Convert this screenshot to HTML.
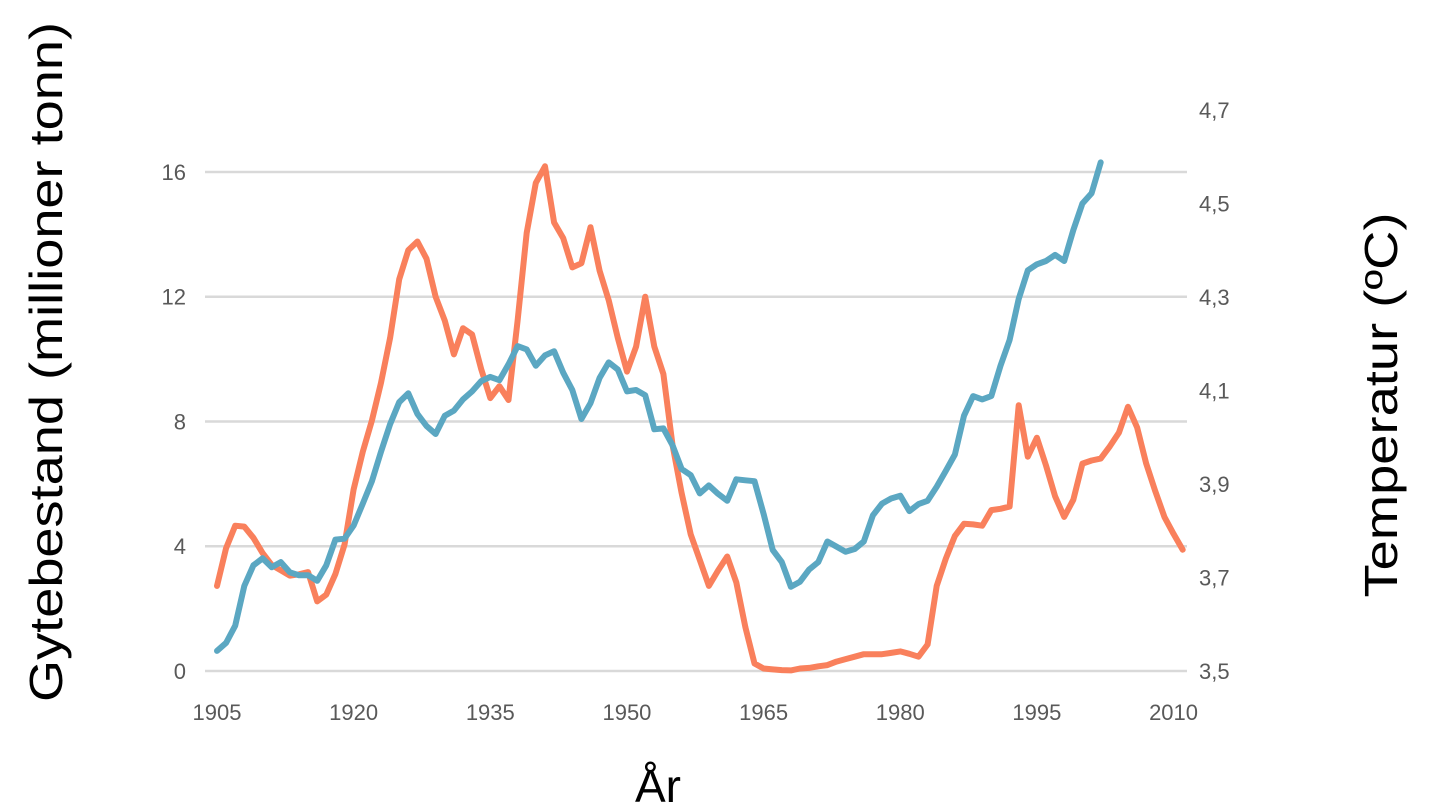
<!DOCTYPE html>
<html><head><meta charset="utf-8"><style>
html,body{margin:0;padding:0;background:#fff;}
svg{display:block;font-family:"Liberation Sans",sans-serif;}
</style></head><body>
<svg id="chart" width="1435" height="810" viewBox="0 0 1435 810">
<g id="grid"></g>
<g id="ylabL"></g>
<g id="ylabR"></g>
<g id="xlab"></g>
<path id="orange" fill="none" stroke="#f9805c" stroke-width="6" stroke-linejoin="round" stroke-linecap="round"/>
<path id="blue" fill="none" stroke="#5ba7c2" stroke-width="6" stroke-linejoin="round" stroke-linecap="round"/>
<text x="0" y="0" transform="translate(62,362) rotate(-90)" text-anchor="middle" font-size="46" fill="#000" textLength="680" lengthAdjust="spacingAndGlyphs">Gytebestand (millioner tonn)</text>
<text x="0" y="0" transform="translate(1397,405) rotate(-90)" text-anchor="middle" font-size="46" fill="#000" textLength="385" lengthAdjust="spacingAndGlyphs">Temperatur (ºC)</text>
<text x="658" y="802" text-anchor="middle" font-size="46" fill="#000">År</text>
</svg>
<script>
const startYear = 1905;
const stock = [2.73,3.94,4.66,4.63,4.27,3.78,3.4,3.23,3.06,3.1,3.17,2.23,2.45,3.11,4.05,5.82,7.03,8.03,9.24,10.68,12.56,13.49,13.77,13.22,12.0,11.23,10.15,10.99,10.79,9.68,8.75,9.13,8.69,11.23,14.05,15.65,16.18,14.38,13.88,12.94,13.07,14.23,12.83,11.89,10.68,9.6,10.4,12.0,10.4,9.52,7.25,5.71,4.38,3.56,2.73,3.22,3.67,2.84,1.4,0.24,0.08,0.05,0.03,0.02,0.08,0.1,0.15,0.19,0.3,0.38,0.46,0.54,0.54,0.54,0.58,0.63,0.55,0.46,0.85,2.73,3.6,4.33,4.72,4.7,4.66,5.16,5.2,5.27,8.52,6.87,7.48,6.59,5.6,4.94,5.49,6.65,6.75,6.81,7.2,7.64,8.47,7.81,6.65,5.76,4.94,4.4,3.89];
const temp = [3.543,3.560,3.597,3.682,3.726,3.741,3.722,3.733,3.711,3.705,3.705,3.693,3.726,3.781,3.783,3.811,3.858,3.906,3.969,4.028,4.075,4.094,4.050,4.024,4.007,4.046,4.057,4.081,4.098,4.120,4.129,4.122,4.156,4.195,4.188,4.153,4.175,4.184,4.138,4.101,4.039,4.073,4.127,4.160,4.145,4.098,4.101,4.090,4.017,4.019,3.983,3.932,3.919,3.880,3.897,3.879,3.864,3.910,3.908,3.906,3.836,3.759,3.733,3.680,3.691,3.717,3.733,3.777,3.766,3.755,3.761,3.777,3.833,3.858,3.869,3.875,3.842,3.857,3.864,3.894,3.928,3.963,4.046,4.088,4.081,4.088,4.153,4.208,4.296,4.357,4.370,4.377,4.390,4.377,4.443,4.500,4.522,4.588];
const leftTicks = [0,4,8,12,16];
const rightTicks = ["3,5","3,7","3,9","4,1","4,3","4,5","4,7"];
const xTicks = [1905,1920,1935,1950,1965,1980,1995,2010];

const NS = "http://www.w3.org/2000/svg";
function xScale(year){ return 217 + (year - startYear) * 9.11; }
function yLeft(v){ return 671 - v * 31.19; }
function yRight(t){ return 671 - (t - 3.5) * 467.5; }

const grid = document.getElementById('grid');
leftTicks.forEach(v => {
  const l = document.createElementNS(NS,'line');
  
  
  l.setAttribute('x1', 205); l.setAttribute('x2', 1187);
  l.setAttribute('y1', yLeft(v)); l.setAttribute('y2', yLeft(v));
  l.setAttribute('stroke', '#d9d9d9'); l.setAttribute('stroke-width', '2.5');
  grid.appendChild(l);
  const t = document.createElementNS(NS,'text');
  
  
  t.setAttribute('x', 186); t.setAttribute('y', yLeft(v) + 8);
  t.setAttribute('text-anchor', 'end'); t.setAttribute('font-size', '22'); t.setAttribute('fill', '#595959');
  t.textContent = v;
  document.getElementById('ylabL').appendChild(t);
});
rightTicks.forEach(s => {
  const t = document.createElementNS(NS,'text');
  
  
  t.setAttribute('x', 1199); t.setAttribute('y', yRight(parseFloat(s.replace(',','.'))) + 8);
  t.setAttribute('font-size', '22'); t.setAttribute('fill', '#595959');
  t.textContent = s;
  document.getElementById('ylabR').appendChild(t);
});
xTicks.forEach(y => {
  const t = document.createElementNS(NS,'text');
  
  
  t.setAttribute('x', xScale(y)); t.setAttribute('y', 720);
  t.setAttribute('text-anchor', 'middle'); t.setAttribute('font-size', '22'); t.setAttribute('fill', '#595959');
  t.textContent = y;
  document.getElementById('xlab').appendChild(t);
});
function pathFrom(arr, yf){
  return arr.map((v,i) => (i ? 'L' : 'M') + xScale(startYear + i).toFixed(1) + ',' + yf(v).toFixed(1)).join(' ');
}
document.getElementById('orange').setAttribute('d', pathFrom(stock, yLeft));
document.getElementById('blue').setAttribute('d', pathFrom(temp, yRight));
</script>
</body></html>
